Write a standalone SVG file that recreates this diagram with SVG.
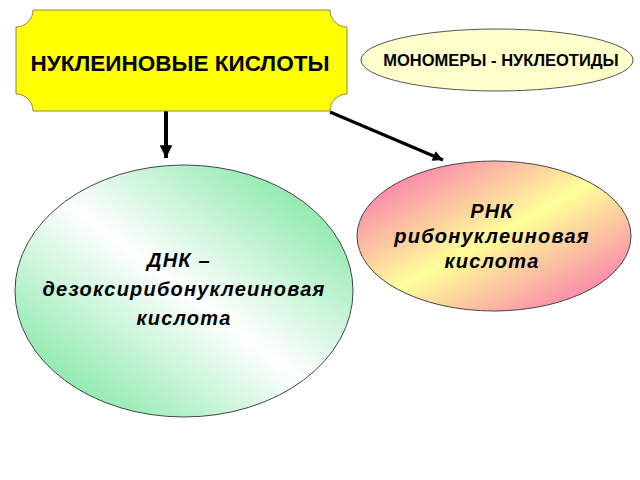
<svg xmlns="http://www.w3.org/2000/svg" width="640" height="480" viewBox="0 0 640 480">
  <style>
    .t { font-family: "Liberation Sans", Arial, sans-serif; font-weight: bold; fill: #000; text-anchor: middle; }
    .it { font-style: italic; font-size: 20px; letter-spacing: 1.2px; }
    .conn { stroke: #000; fill: none; }
  </style>
  <defs>
    <linearGradient id="gDNA" x1="1" y1="0" x2="0" y2="1">
      <stop offset="0" stop-color="#66E290"/>
      <stop offset="0.5" stop-color="#FFFFFF"/>
      <stop offset="1" stop-color="#66E290"/>
    </linearGradient>
    <linearGradient id="gRNA" x1="0" y1="0" x2="1" y2="1">
      <stop offset="0" stop-color="#F760B0"/>
      <stop offset="0.5" stop-color="#FFFF99"/>
      <stop offset="1" stop-color="#F760B0"/>
    </linearGradient>
    <marker id="ah" viewBox="0 0 10 10" refX="10" refY="5" markerWidth="3.2" markerHeight="3.2" orient="auto" markerUnits="strokeWidth">
      <path d="M0,0 L10,5 L0,10 Z" fill="#000"/>
    </marker>
    <marker id="ah2" viewBox="0 0 10 10" refX="10" refY="5" markerWidth="4" markerHeight="3.4" orient="auto" markerUnits="strokeWidth">
      <path d="M0,0 L10,5 L0,10 Z" fill="#000"/>
    </marker>
  </defs>
  <rect width="640" height="480" fill="#fff"/>

  <g id="connectors">
    <line class="conn" x1="166" y1="111" x2="166" y2="158" stroke-width="4" marker-end="url(#ah)"/>
    <line class="conn" x1="330" y1="112" x2="443" y2="160" stroke-width="3" marker-end="url(#ah2)"/>
  </g>

  <g id="nucleic-acids">
    <path d="M33,10 H330 A17,17 0 0 0 347,27 V94 A17,17 0 0 0 330,111 H33 A17,17 0 0 0 16,94 V27 A17,17 0 0 0 33,10 Z" fill="#FFFF00" stroke="#8A8A50" stroke-width="1"/>
    <text class="t" x="180" y="71" font-size="22.5">НУКЛЕИНОВЫЕ КИСЛОТЫ</text>
  </g>

  <g id="monomers">
    <ellipse cx="497" cy="60" rx="136" ry="31" fill="#FFFFCC" stroke="#555" stroke-width="1"/>
    <text class="t" x="501" y="66" font-size="16.5">МОНОМЕРЫ - НУКЛЕОТИДЫ</text>
  </g>

  <g id="dna">
    <ellipse cx="184" cy="291" rx="169" ry="126" fill="url(#gDNA)" stroke="#444" stroke-width="1"/>
    <text class="t it" x="179" y="267">ДНК –</text>
    <text class="t it" x="184" y="296">дезоксирибонуклеиновая</text>
    <text class="t it" x="184" y="325">кислота</text>
  </g>

  <g id="rna">
    <ellipse cx="494" cy="236" rx="137" ry="75" fill="url(#gRNA)" stroke="#444" stroke-width="1"/>
    <text class="t it" x="492" y="218">РНК</text>
    <text class="t it" x="492" y="243">рибонуклеиновая</text>
    <text class="t it" x="492" y="268">кислота</text>
  </g>
</svg>
